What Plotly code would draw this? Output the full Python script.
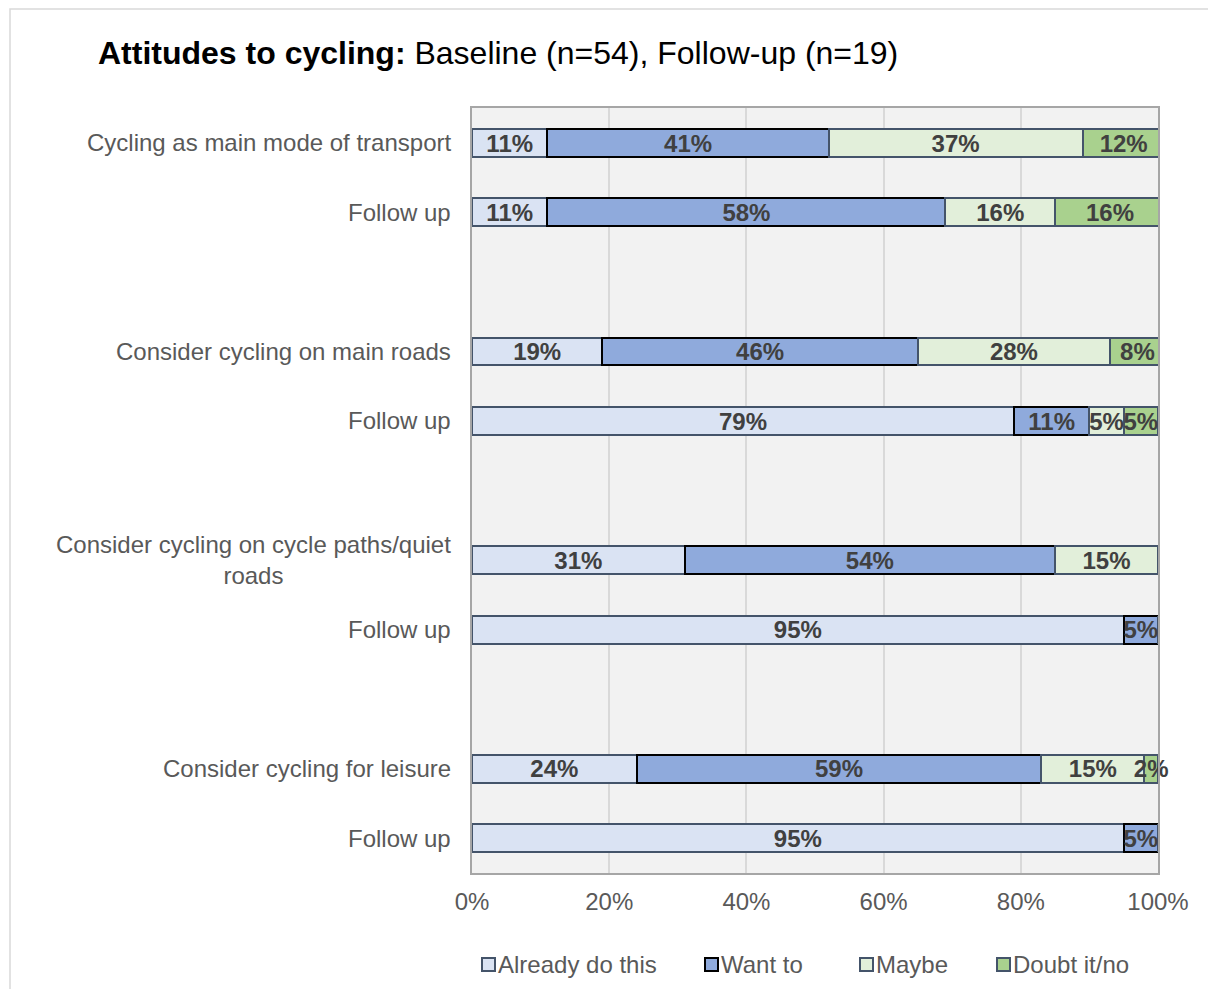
import plotly.graph_objects as go

# Survey rows: each question at baseline followed by its follow-up
row_labels = [
    "Cycling as main mode of transport", "Follow up",
    "Consider cycling on main roads", "Follow up",
    "Consider cycling on cycle paths/quiet<br>roads", "Follow up",
    "Consider cycling for leisure", "Follow up",
]
series_names = ["Already do this", "Want to", "Maybe", "Doubt it/no"]
already_do_this = [11, 11, 19, 79, 31, 95, 24, 95]
want_to = [41, 58, 46, 11, 54, 5, 59, 5]
maybe = [37, 16, 28, 5, 15, 0, 15, 0]
doubt_it_no = [12, 16, 8, 5, 0, 0, 2, 0]
x_ticks = [0, 20, 40, 60, 80, 100]

series_values = [already_do_this, want_to, maybe, doubt_it_no]
fills = ["#dae3f3", "#8faadc", "#e2efda", "#a9d18e"]
edges = ["#44546a", "#000000", "#44546a", "#44546a"]

# baseline/follow-up pairs separated by an empty slot
y_pos = [3 * (i // 2) + (i % 2) for i in range(len(row_labels))]
# small downward nudge so value labels sit optically centred in the bars
LABEL_DY = 0.04

FONT = "Liberation Sans, Arial, sans-serif"
W, H = 1208, 989
L, R, T, B = 472, 50, 108, 116
PW, PH = W - L - R, H - T - B


def px_x(p):
    return (p - L) / PW


def px_y(p):
    return (H - B - p) / PH


fig = go.Figure()
running = [0] * len(row_labels)
for name, vals, fc, ec in zip(series_names, series_values, fills, edges):
    fig.add_trace(go.Bar(
        name=name,
        orientation="h",
        x=vals,
        y=y_pos,
        width=0.4,
        marker=dict(color=fc, line=dict(color=ec, width=2)),
        showlegend=False,
        hoverinfo="skip",
    ))
    # value labels centred on each segment
    mids = [r + v / 2 for r, v in zip(running, vals)]
    fig.add_trace(go.Scatter(
        x=mids, y=[y + LABEL_DY for y in y_pos], mode="text",
        text=[f"{v}%" if v > 0 else "" for v in vals],
        textposition="middle center",
        textfont=dict(family=FONT, size=24, color="#404040", weight="bold"),
        cliponaxis=False, showlegend=False, hoverinfo="skip",
    ))
    running = [r + v for r, v in zip(running, vals)]

annotations = []
# category labels
for lbl, yp in zip(row_labels, y_pos):
    annotations.append(dict(
        text=lbl, x=px_x(453), y=yp, xref="paper", yref="y",
        xanchor="right", yanchor="middle", align="center", showarrow=False,
        font=dict(family=FONT, size=24, color="#595959"),
    ))

# legend drawn as swatches and labels under the axis
shapes = []
legend_x = [481, 704, 859, 996]
for name, fc, ec, lx in zip(series_names, fills, edges, legend_x):
    shapes.append(dict(
        type="rect", xref="paper", yref="paper",
        x0=px_x(lx + 1), x1=px_x(lx + 14), y0=px_y(971), y1=px_y(958),
        fillcolor=fc, line=dict(color=ec, width=2),
    ))
    annotations.append(dict(
        text=name, x=px_x(lx + 15), y=px_y(964), xref="paper", yref="paper",
        xanchor="left", yanchor="middle", showarrow=False,
        font=dict(family=FONT, size=24, color="#595959"),
    ))

# light frame around the chart
shapes.append(dict(
    type="rect", xref="paper", yref="paper", layer="below",
    x0=px_x(10), x1=px_x(1230), y0=px_y(1010), y1=px_y(9),
    line=dict(color="#d9d9d9", width=1.5), fillcolor="rgba(0,0,0,0)",
))

fig.update_layout(
    width=W, height=H,
    margin=dict(l=L, r=R, t=T, b=B),
    barmode="stack",
    paper_bgcolor="white",
    plot_bgcolor="#f2f2f2",
    title=dict(
        text="<b>Attitudes to cycling:</b> Baseline (n=54), Follow-up (n=19)",
        x=98 / W, xanchor="left", xref="container",
        y=1 - 53 / H, yanchor="middle", yref="container",
        font=dict(family=FONT, size=32, color="#000000"),
    ),
    xaxis=dict(
        range=[0, 100], tickvals=x_ticks,
        ticktext=[f"{t}%" for t in x_ticks],
        showgrid=True, gridcolor="#d9d9d9", gridwidth=1.5,
        zeroline=False, showline=True, mirror=True,
        linecolor="#a6a6a6", linewidth=2,
        tickfont=dict(family=FONT, size=24, color="#595959"),
        ticks="", ticklabelstandoff=6,
    ),
    yaxis=dict(
        range=[10.5, -0.5], showticklabels=False, showgrid=False,
        zeroline=False, showline=True, mirror=True,
        linecolor="#a6a6a6", linewidth=2, ticks="",
    ),
    annotations=annotations,
    shapes=shapes,
    showlegend=False,
)

fig.write_html("out.html")
